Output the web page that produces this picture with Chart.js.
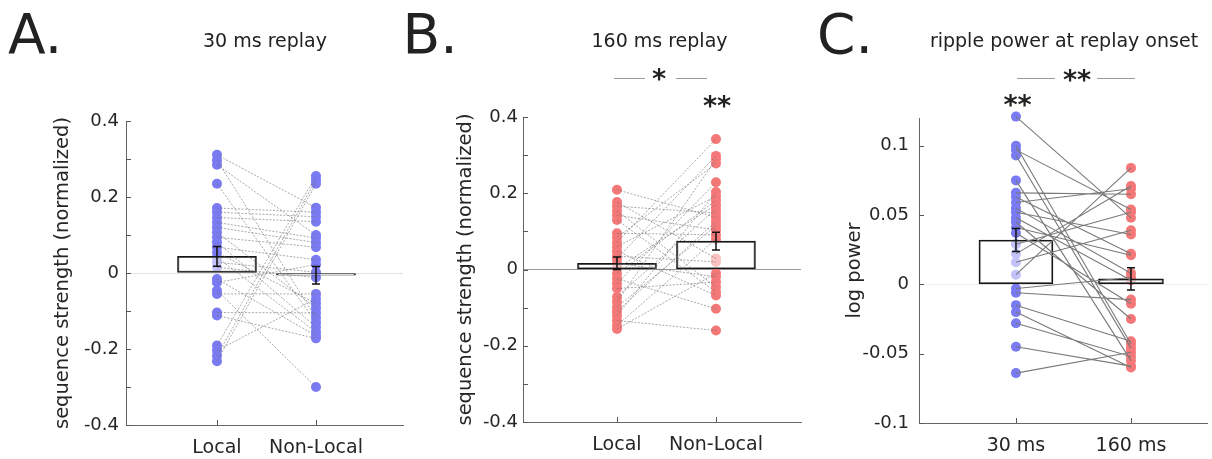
<!DOCTYPE html>
<html>
<head>
<meta charset="utf-8">
<script src="https://cdn.jsdelivr.net/npm/chart.js@4"></script>
<style>
  html, body { margin: 0; padding: 0; background: #fff; }
  #wrap { position: relative; width: 1212px; height: 459px; overflow: hidden;
          font-family: "DejaVu Sans", sans-serif; color: #222; }
  canvas { position: absolute; left: 0; top: 0; }
  .t { position: absolute; line-height: 1; white-space: nowrap; }
  .letter { font-size: 55px; }
  .title { font-size: 19px; width: 400px; text-align: center; }
  .star { font-size: 27px; font-weight: bold; width: 100px; text-align: center; }
  .sig { position: absolute; height: 0; border-top: 1px solid #9a9a9a; }
</style>
</head>
<body>
<div id="wrap">
  <canvas id="chartA" width="1212" height="459"></canvas>
  <canvas id="chartB" width="1212" height="459"></canvas>
  <canvas id="chartC" width="1212" height="459"></canvas>

  <div class="t letter" style="left:8px; top:6.5px;">A.</div>
  <div class="t letter" style="left:402.6px; top:6.5px;">B.</div>
  <div class="t letter" style="left:817px; top:6.5px;">C.</div>

  <div class="t title" style="left:65px; top:31px;">30 ms replay</div>
  <div class="t title" style="left:459.5px; top:31px;">160 ms replay</div>
  <div class="t title" style="left:864px; top:31px;">ripple power at replay onset</div>

  <div class="sig" style="left:614px; width:31px; top:78px;"></div>
  <div class="sig" style="left:676px; width:31px; top:78px;"></div>
  <div class="t star" style="left:609px; top:65px;">*</div>
  <div class="t star" style="left:667px; top:92px;">**</div>

  <div class="sig" style="left:1017px; width:38px; top:78px;"></div>
  <div class="sig" style="left:1097px; width:38px; top:78px;"></div>
  <div class="t star" style="left:1027px; top:65.5px;">**</div>
  <div class="t star" style="left:967.5px; top:91px;">**</div>
</div>

<script>
// ---- Panel A: 30 ms replay (paired by index) ----
const catsA = ['Local', 'Non-Local'];
const localA = [0.311, 0.297, 0.285, 0.235, 0.171, 0.160, 0.146, 0.133, 0.120,
                0.107, 0.094, 0.081, 0.068, 0.054, 0.041, 0.028, 0.015, -0.016,
                -0.025, -0.046, -0.055, -0.104, -0.112, -0.191, -0.204, -0.218, -0.232];
const nonLocalA = [0.172, -0.118, 0.100, -0.130, 0.160, 0.148, 0.135, 0.092, 0.080,
                   -0.092, 0.068, -0.142, 0.035, -0.080, -0.155, 0.002, -0.012, -0.165,
                   0.022, -0.300, -0.055, -0.105, -0.172, 0.255, -0.068, 0.245, 0.235];
const meanA = [0.044, -0.006];
const semA = [0.026, 0.023];
const yTicksA = [-0.4, -0.3, -0.2, -0.1, 0, 0.1, 0.2, 0.3, 0.4];
const yLabelsA = ['-0.4', '', '-0.2', '', '0', '', '0.2', '', '0.4'];

// ---- Panel B: 160 ms replay ----
const catsB = ['Local', 'Non-Local'];
const localB = [0.209, 0.177, 0.166, 0.154, 0.142, 0.130, 0.095, 0.084, 0.071,
                0.060, 0.048, 0.035, 0.029, 0.016, 0.003, -0.011, -0.024, -0.037,
                -0.050, -0.072, -0.085, -0.099, -0.110, -0.121, -0.134, -0.147, -0.156];
const nonLocalB = [0.137, 0.029, 0.148, -0.046, 0.104, -0.059, 0.091, 0.278, 0.342,
                   0.192, -0.068, 0.020, 0.298, -0.019, 0.170, 0.181, -0.103, 0.229,
                   -0.033, 0.159, 0.289, 0.115, 0.126, 0.203, -0.160, 0.080, -0.010];
const meanB = [0.0165, 0.0745];
const semB = [0.0165, 0.0235];
const yTicksB = yTicksA;
const yLabelsB = yLabelsA;

// ---- Panel C: ripple power at replay onset ----
const catsC = ['30 ms', '160 ms'];
const shortC = [0.121, 0.100, 0.097, 0.093, 0.075, 0.066, 0.063, 0.059, 0.055,
                0.052, 0.048, 0.045, 0.041, 0.037, 0.029, 0.022, 0.016, 0.007,
                -0.003, -0.006, -0.015, -0.020, -0.028, -0.045, -0.064];
const longC = [0.048, -0.043, 0.054, -0.046, -0.055, 0.065, 0.022, 0.069, 0.008,
               0.036, 0.003, -0.025, 0.021, -0.014, 0.052, 0.071, 0.039, 0.084,
               0.005, -0.011, -0.041, -0.060, -0.052, -0.059, -0.049];
const meanC = [0.032, 0.004];
const semC = [0.0083, 0.008];
const yTicksC = [-0.1, -0.05, 0, 0.05, 0.1];
const yLabelsC = ['-0.1', '-0.05', '0', '0.05', '0.1'];

const FONT = '"DejaVu Sans", sans-serif';
const TEXT = '#262626';
const BLUE = '#7a7af2';
const RED = '#f57878';

// error bars + inward tick marks
const errorBars = {
  id: 'errorBars',
  afterDatasetsDraw(chart, args, opts) {
    const { ctx, chartArea, scales: { x, y } } = chart;
    ctx.save();
    ctx.strokeStyle = '#555';
    ctx.lineWidth = 1;
    y.ticks.forEach(t => {
      const py = Math.round(y.getPixelForValue(t.value)) + 0.5;
      ctx.beginPath();
      ctx.moveTo(chartArea.left, py);
      ctx.lineTo(chartArea.left + 5, py);
      ctx.stroke();
    });
    x.ticks.forEach(t => {
      const px = Math.round(x.getPixelForValue(t.value)) + 0.5;
      ctx.beginPath();
      ctx.moveTo(px, chartArea.bottom);
      ctx.lineTo(px, chartArea.bottom - 5);
      ctx.stroke();
    });
    ctx.strokeStyle = '#111';
    ctx.lineWidth = 1.5;
    opts.mean.forEach((m, i) => {
      const px = x.getPixelForValue(i + 1);
      const top = y.getPixelForValue(m + opts.sem[i]);
      const bot = y.getPixelForValue(m - opts.sem[i]);
      ctx.beginPath();
      ctx.moveTo(px, top); ctx.lineTo(px, bot);
      ctx.moveTo(px - 4, top); ctx.lineTo(px + 4, top);
      ctx.moveTo(px - 4, bot); ctx.lineTo(px + 4, bot);
      ctx.stroke();
    });
    ctx.restore();
  }
};

function pairLines(a, b) {
  const pts = [];
  a.forEach((v, i) => {
    pts.push({ x: 1, y: v }, { x: 2, y: b[i] }, { x: 1.5, y: null });
  });
  return pts;
}

function makePanel(p) {
  new Chart(document.getElementById(p.id), {
    type: 'scatter',
    data: {
      datasets: [
        { type: 'line', data: pairLines(p.a, p.b), borderColor: p.lineColor,
          borderWidth: p.lineWidth, borderDash: p.dash, pointRadius: 0, order: 0, clip: false },
        { type: 'bar', data: [{ x: 1, y: p.mean[0] }], barThickness: p.barW[0], grouped: false,
          backgroundColor: 'rgba(255,255,255,0.55)', borderColor: '#161616',
          borderWidth: 1.5, borderSkipped: false, order: 1 },
        { type: 'bar', data: [{ x: 2, y: p.mean[1] }], barThickness: p.barW[1], grouped: false,
          backgroundColor: 'rgba(255,255,255,0.55)', borderColor: '#161616',
          borderWidth: 1.5, borderSkipped: false, order: 1 },
        { type: 'scatter', data: p.a.map(v => ({ x: 1, y: v })), pointRadius: 5,
          backgroundColor: p.colA, borderWidth: 0, order: 2, clip: false },
        { type: 'scatter', data: p.b.map(v => ({ x: 2, y: v })), pointRadius: 5,
          backgroundColor: p.colB, borderWidth: 0, order: 2, clip: false }
      ]
    },
    options: {
      responsive: false,
      animation: false,
      events: [],
      layout: { padding: p.pad },
      plugins: {
        legend: { display: false },
        tooltip: { enabled: false },
        errorBars: { mean: p.mean, sem: p.sem }
      },
      scales: {
        x: {
          type: 'linear', min: p.xMin, max: p.xMax, offset: false,
          afterBuildTicks: s => { s.ticks = p.cats.map((c, i) => ({ value: i + 1 })); },
          afterFit: s => { s.height = 34; },
          grid: { display: false, offset: false },
          border: { display: true, color: '#666', width: 1 },
          ticks: { padding: 4, color: TEXT, font: { family: FONT, size: 19 },
                   maxRotation: 0, autoSkip: false,
                   callback: (v, i) => p.cats[i] }
        },
        y: {
          min: p.yMin, max: p.yMax,
          afterBuildTicks: s => { s.ticks = p.yTicks.map(v => ({ value: v })); },
          afterFit: s => { s.width = p.yW; },
          grid: { drawTicks: false,
                  color: c => (c.tick && c.tick.value === 0) ? p.zeroColor : 'rgba(0,0,0,0)' },
          border: { display: true, color: '#666', width: 1 },
          ticks: { padding: p.tickPad, color: TEXT, font: { family: FONT, size: 18 },
                   autoSkip: false, callback: (v, i) => p.yLabels[i] },
          title: { display: true, text: p.yTitle, color: TEXT,
                   font: { family: FONT, size: 19.5 }, padding: { top: 0, bottom: 0 } }
        }
      }
    },
    plugins: [errorBars]
  });
}

makePanel({
  id: 'chartA', cats: catsA, a: localA, b: nonLocalA, mean: meanA, sem: semA,
  yTicks: yTicksA, yLabels: yLabelsA, yMin: -0.4, yMax: 0.4, xMin: 0.081, xMax: 2.879,
  yTitle: 'sequence strength (normalized)', yW: 74.7, tickPad: 7,
  pad: { left: 51.3, right: 809, top: 121, bottom: 0 },
  colA: BLUE, colB: BLUE, lineColor: 'rgba(110,110,110,0.75)', lineWidth: 0.8, dash: [2, 1.5],
  barW: [79, 79], zeroColor: '#e2e2e2'
});

makePanel({
  id: 'chartB', cats: catsB, a: localB, b: nonLocalB, mean: meanB, sem: semB,
  yTicks: yTicksB, yLabels: yLabelsB, yMin: -0.4, yMax: 0.4, xMin: 0.0505, xMax: 2.859,
  yTitle: 'sequence strength (normalized)', yW: 68.7, tickPad: 5,
  pad: { left: 454.3, right: 411, top: 117, bottom: 3 },
  colA: RED, colB: RED, lineColor: 'rgba(110,110,110,0.75)', lineWidth: 0.8, dash: [2, 1.5],
  barW: [79, 79], zeroColor: '#9a9a9a'
});

makePanel({
  id: 'chartC', cats: catsC, a: shortC, b: longC, mean: meanC, sem: semC,
  yTicks: yTicksC, yLabels: yLabelsC, yMin: -0.1, yMax: 0.12, xMin: 0.157, xMax: 2.661,
  yTitle: 'log power', yW: 75.7, tickPad: 10,
  pad: { left: 843.3, right: 5, top: 118, bottom: 2 },
  colA: BLUE, colB: RED, lineColor: '#7a7a7a', lineWidth: 1.1, dash: [],
  barW: [74, 65], zeroColor: '#eeeeee'
});
</script>
</body>
</html>
